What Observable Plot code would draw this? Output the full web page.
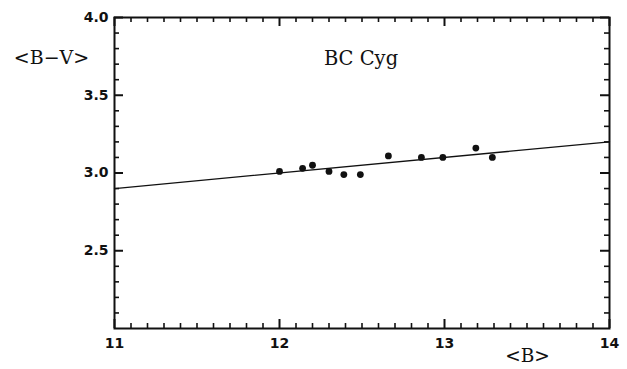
<!DOCTYPE html>
<html>
<head>
<meta charset="utf-8">
<script src="https://cdn.jsdelivr.net/npm/d3@7"></script>
<script src="https://cdn.jsdelivr.net/npm/@observablehq/plot@0.6"></script>
<style>
  html, body { margin: 0; padding: 0; background: #fff; }
  #chart svg { display: block; }
</style>
</head>
<body>
<div id="chart"></div>
<script>
// Observations: mean B magnitude and mean B-V colour
const bMag = [12.00, 12.14, 12.20, 12.30, 12.39, 12.49, 12.66, 12.86, 12.99, 13.19, 13.29];
const bvColor = [3.01, 3.03, 3.05, 3.01, 2.99, 2.99, 3.11, 3.10, 3.10, 3.16, 3.10];

// Fitted line (end points)
const fitB = [11, 14];
const fitBV = [2.90, 3.20];

// Axes
const xMajor = [11, 12, 13, 14];
const xLabels = ["11", "12", "13", "14"];
const yMajor = [2.5, 3.0, 3.5, 4.0];
const yLabels = ["2.5", "3.0", "3.5", "4.0"];
const xMinor = d3.range(110, 141, 1).map(v => v / 10).filter(v => !xMajor.includes(v));
const yMinor = d3.range(20, 41, 1).map(v => v / 10).filter(v => !yMajor.includes(v) && v !== 2.0);

const title = "BC Cyg";
const xTitle = "<B>";
const yTitle = "<B\u2212V>";

const W = 627, H = 369;
const mL = 114, mR = 18, mT = 17, mB = 41;
const iw = W - mL - mR, ih = H - mT - mB;
const majorLen = 9, minorLen = 5;

const points = bMag.map((b, i) => ({b, bv: bvColor[i]}));
const fit = fitB.map((b, i) => ({b, bv: fitBV[i]}));

const tickStyle = {stroke: "#111", strokeWidth: 1.6};
const labelFont = "DejaVu Sans, Arial, sans-serif";
const serif = "DejaVu Serif, Liberation Serif, serif";
const titleStyle = {fontFamily: serif, fill: "#111", textAnchor: "middle", lineAnchor: "middle"};

const chart = Plot.plot({
  width: W,
  height: H,
  marginLeft: mL,
  marginRight: mR,
  marginTop: mT,
  marginBottom: mB,
  x: {domain: [11, 14], axis: null},
  y: {domain: [2, 4], axis: null},
  marks: [
    // ticks, inward on all four sides
    Plot.tickX(xMinor, {x: d => d, insetTop: ih - minorLen, ...tickStyle}),
    Plot.tickX(xMinor, {x: d => d, insetBottom: ih - minorLen, ...tickStyle}),
    Plot.tickX(xMajor, {x: d => d, insetTop: ih - majorLen, ...tickStyle, strokeWidth: 2}),
    Plot.tickX(xMajor, {x: d => d, insetBottom: ih - majorLen, ...tickStyle, strokeWidth: 2}),
    Plot.tickY(yMinor, {y: d => d, insetRight: iw - minorLen, ...tickStyle}),
    Plot.tickY(yMinor, {y: d => d, insetLeft: iw - minorLen, ...tickStyle}),
    Plot.tickY(yMajor, {y: d => d, insetRight: iw - majorLen, ...tickStyle, strokeWidth: 2}),
    Plot.tickY(yMajor, {y: d => d, insetLeft: iw - majorLen, ...tickStyle, strokeWidth: 2}),
    Plot.frame({stroke: "#111", strokeWidth: 2}),
    // tick labels
    Plot.text(xMajor, {x: d => d, text: (d, i) => xLabels[i], frameAnchor: "bottom", dy: 19,
      fontSize: 14, fontWeight: "bold", fontFamily: labelFont, fill: "#111"}),
    Plot.text(yMajor, {y: d => d, text: (d, i) => yLabels[i], frameAnchor: "left", dx: -6,
      textAnchor: "end", fontSize: 14, fontWeight: "bold", fontFamily: labelFont, fill: "#111"}),
    // fit line and data
    Plot.line(fit, {x: "b", y: "bv", stroke: "#111", strokeWidth: 1.3}),
    Plot.dot(points, {x: "b", y: "bv", r: 3.4, fill: "#111", stroke: "none"}),
    // titles
    Plot.text([title], {frameAnchor: "top", dx: -1, dy: 41, fontSize: 19.5, ...titleStyle}),
    Plot.text([xTitle], {frameAnchor: "bottom-right", dx: -82, dy: 28, fontSize: 18.5, ...titleStyle}),
    Plot.text([yTitle], {frameAnchor: "top-left", dx: -63, dy: 40, fontSize: 19, ...titleStyle})
  ]
});
document.getElementById("chart").appendChild(chart);
</script>
</body>
</html>
